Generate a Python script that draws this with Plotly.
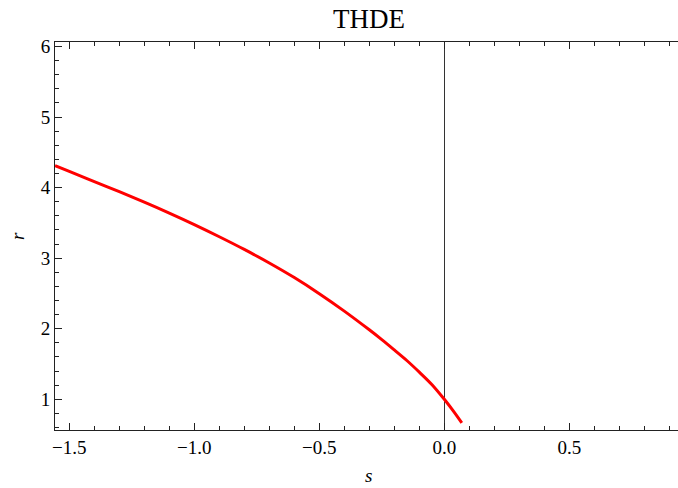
import plotly.graph_objects as go

# Statefinder trajectory in the (s, r) plane for THDE
s_vals = [-1.557, -1.5, -1.4, -1.3, -1.2, -1.1, -1.0, -0.9, -0.8, -0.7,
          -0.6, -0.5, -0.4, -0.3, -0.25, -0.2, -0.15, -0.1, -0.05, 0.0, 0.035, 0.07]
r_vals = [4.311, 4.229, 4.086, 3.942, 3.794, 3.639, 3.476, 3.304, 3.124, 2.932,
          2.725, 2.497, 2.250, 1.985, 1.846, 1.700, 1.550, 1.385, 1.210, 1.000, 0.839, 0.665]

x_range = [-1.5572, 0.9348]
y_range = [0.565, 6.064]

title_text = "THDE"
x_title = "s"
y_title = "r"

serif = "Liberation Serif, Times New Roman, serif"
frame_col = "#222222"

fig = go.Figure()
fig.add_trace(go.Scatter(
    x=s_vals, y=r_vals, mode="lines",
    line=dict(color="#ff0000", width=3, shape="spline", smoothing=1.0),
    showlegend=False, hoverinfo="skip",
))

axis_common = dict(
    showgrid=False, showline=True, linecolor=frame_col, linewidth=1,
    ticks="inside", ticklen=7, tickwidth=1, tickcolor=frame_col,
    tickfont=dict(family=serif, size=19, color="#000000"),
    automargin=False,
)

label_font = dict(family=serif, size=19, color="#000000", style="italic")

fig.update_layout(
    width=678, height=488,
    margin=dict(l=55, r=0, t=42, b=58),
    paper_bgcolor="white", plot_bgcolor="white",
    title=dict(text=title_text, x=369 / 678, xref="container", xanchor="center",
               y=1 - 19 / 488, yref="container", yanchor="middle",
               font=dict(family=serif, size=27, color="#000000")),
    xaxis=dict(
        **axis_common,
        range=x_range, mirror="allticks",
        tick0=0, dtick=0.5, tickformat=".1f",
        minor=dict(ticks="inside", ticklen=4, tickwidth=1, tickcolor=frame_col, dtick=0.1),
        zeroline=True, zerolinecolor="#333333", zerolinewidth=1,
    ),
    yaxis=dict(
        **axis_common,
        range=y_range, mirror=False,
        tick0=0, dtick=1,
        minor=dict(ticks="inside", ticklen=4, tickwidth=1, tickcolor=frame_col, dtick=0.2),
        zeroline=False,
    ),
    yaxis2=dict(
        range=y_range, overlaying="y", side="right", anchor="x",
        showgrid=False, showline=False, zeroline=False,
        ticks="inside", ticklen=2, tickwidth=1, tickcolor=frame_col,
        tick0=0, dtick=1, showticklabels=False,
    ),
    annotations=[
        # axis labels
        dict(text=x_title, xref="paper", yref="paper", x=0.504, y=0,
             xanchor="center", yanchor="bottom", yshift=-58,
             showarrow=False, font=label_font),
        dict(text=y_title, xref="paper", yref="paper", x=0, y=0.5,
             xanchor="center", yanchor="middle", xshift=-38, textangle=-90,
             showarrow=False, font=label_font),
    ],
)

fig.write_html("out.html")
